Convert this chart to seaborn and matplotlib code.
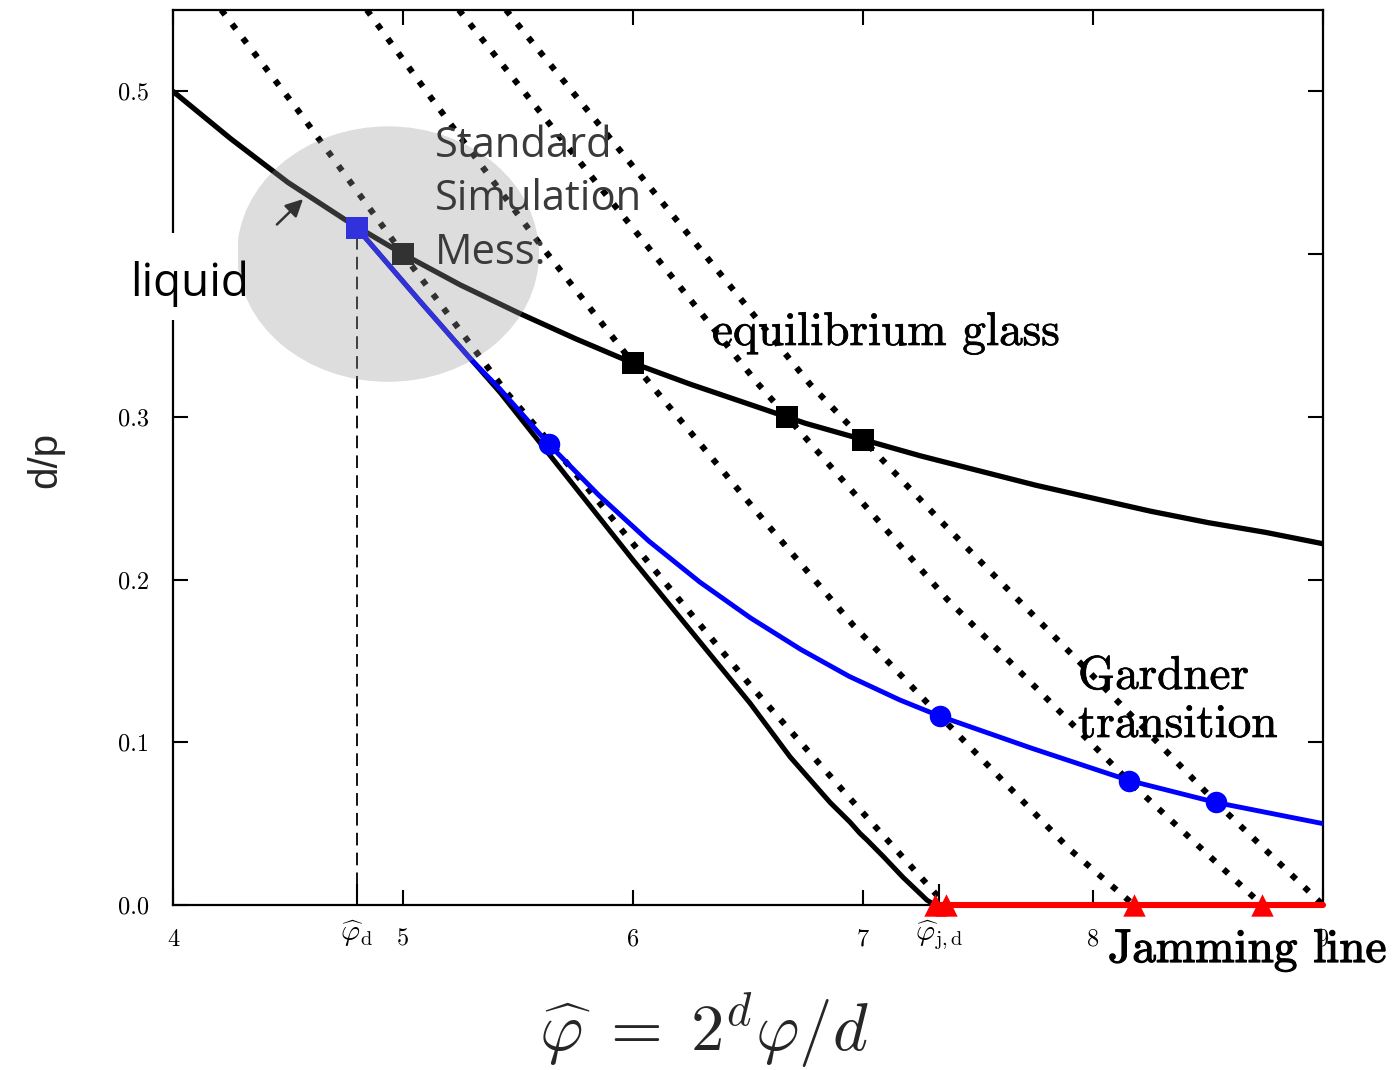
import matplotlib
matplotlib.use("Agg")
import matplotlib.pyplot as plt
import matplotlib.patheffects as pe
from matplotlib.patches import Ellipse, Rectangle
import seaborn as sns

# equilibrium liquid / glass line d/p
eq_x = [4.00, 4.25, 4.50, 4.75, 5.00, 5.25, 5.50, 5.75, 6.00, 6.25, 6.50,
        6.75, 7.00, 7.25, 7.50, 7.75, 8.00, 8.25, 8.50, 8.75, 9.00]
eq_y = [0.500, 0.471, 0.444, 0.421, 0.400, 0.381, 0.364, 0.348, 0.333, 0.320, 0.308,
        0.296, 0.286, 0.276, 0.267, 0.258, 0.250, 0.242, 0.235, 0.229, 0.222]

# glass followed from phi_d down to jamming
thr_x = [4.800, 5.074, 5.422, 6.000, 6.509, 6.683, 6.857, 6.943, 6.987, 7.017, 7.087, 7.174, 7.278, 7.313]
thr_y = [0.416, 0.371, 0.315, 0.212, 0.124, 0.091, 0.063, 0.051, 0.044, 0.040, 0.030, 0.017, 0.003, 0.0]

# Gardner line
gard_x = [4.800, 5.074, 5.291, 5.422, 5.635, 5.850, 6.070, 6.290, 6.510, 6.730, 6.940,
          7.160, 7.335, 7.730, 8.157, 8.535, 9.000]
gard_y = [0.416, 0.371, 0.336, 0.317, 0.283, 0.252, 0.2235, 0.1985, 0.1765, 0.157, 0.1405,
          0.126, 0.116, 0.0965, 0.0765, 0.063, 0.050]

# glass equations of state (dotted)
glass_eos = {
    "g5": ([4.21, 4.54, 5.00, 5.45, 5.64, 6.07, 6.51, 6.94, 7.36],
           [0.550, 0.489, 0.400, 0.315, 0.284, 0.210, 0.135, 0.066, 0.0]),
    "g6": ([4.843, 5.117, 5.596, 6.000, 6.565, 6.957, 7.335, 7.900, 8.178],
           [0.550, 0.497, 0.406, 0.333, 0.237, 0.172, 0.116, 0.034, 0.0]),
    "g667": ([5.243, 5.857, 6.539, 6.670, 7.365, 7.770, 8.157, 8.735],
             [0.550, 0.441, 0.321, 0.300, 0.188, 0.131, 0.076, 0.0]),
    "g7": ([5.448, 6.074, 6.770, 7.000, 7.365, 7.943, 8.535, 9.000],
           [0.550, 0.441, 0.320, 0.286, 0.232, 0.149, 0.063, 0.0]),
}

sq_x = [5.0, 6.0, 6.67, 7.0]
sq_y = [0.400, 0.333, 0.300, 0.286]
phi_d, phi_d_y = 4.8, 0.416
circ_x = [5.635, 7.335, 8.157, 8.535]
circ_y = [0.283, 0.116, 0.0765, 0.063]
jam_x = [7.313, 7.36, 8.178, 8.735]
jam_line_x = [7.313, 9.0]
phi_jd = 7.33

xticks = [4, 5, 6, 7, 8, 9]
yticks = [0.0, 0.1, 0.2, 0.3, 0.4, 0.5]
ytick_labels = ["0.0", "0.1", "0.2", "0.3", "", "0.5"]  # 0.4 sits under the "liquid" box

W, H = 1398, 1070
sns.set_theme(style="ticks")
plt.rcParams["font.family"] = ["DejaVu Sans"]
plt.rcParams["mathtext.fontset"] = "cm"

fig = plt.figure(figsize=(W / 100, H / 100), dpi=100)
ax = fig.add_axes([173 / W, 1 - 905 / H, 1150 / W, 895 / H])

sns.lineplot(x=eq_x, y=eq_y, ax=ax, color="black", lw=3.8, estimator=None, sort=False, zorder=3)
for name, (gx, gy) in glass_eos.items():
    sns.lineplot(x=gx, y=gy, ax=ax, color="black", lw=4.4, estimator=None, sort=False,
                 linestyle=(0, (1, 1.9)), dash_capstyle="butt", zorder=2)
sns.lineplot(x=thr_x, y=thr_y, ax=ax, color="black", lw=3.6, estimator=None, sort=False, zorder=3)
sns.lineplot(x=gard_x, y=gard_y, ax=ax, color="#0000ff", lw=3.5, estimator=None, sort=False, zorder=4)
sns.lineplot(x=jam_line_x, y=[0, 0], ax=ax, color="#ff0000", lw=4.4, estimator=None, sort=False,
             zorder=4, clip_on=False)

ax.vlines(phi_d, 0, phi_d_y, colors="black", lw=1.3, linestyles=(0, (7, 4)), zorder=2)

sns.scatterplot(x=sq_x, y=sq_y, ax=ax, marker="s", s=250, color="black", linewidth=0, zorder=5)
sns.scatterplot(x=[phi_d], y=[phi_d_y], ax=ax, marker="s", s=250, color="#0000ff", linewidth=0, zorder=5)
sns.scatterplot(x=circ_x, y=circ_y, ax=ax, marker="o", s=240, color="#0000ff", linewidth=0, zorder=5)
sns.scatterplot(x=jam_x, y=[0] * len(jam_x), ax=ax, marker="^", s=260, color="#ff0000",
                linewidth=0, zorder=5, clip_on=False)

ax.annotate("", xy=(4.574, 0.435), xytext=(4.443, 0.417),
            arrowprops=dict(arrowstyle="-|>", color="black", lw=1.8, mutation_scale=26), zorder=5)

# grey "standard simulation" blob
ax.add_patch(Ellipse((4.935, 0.400), 1.313, 0.157, facecolor=(0.6, 0.6, 0.6), alpha=0.33,
                     edgecolor="none", zorder=6))

ax.set_xlim(4, 9)
ax.set_ylim(0, 0.55)
ax.set_xticks(xticks)
ax.set_xticklabels([str(t) for t in xticks])
ax.set_yticks(yticks)
ax.set_yticklabels(ytick_labels)
ax.set_xticks([phi_d, phi_jd], minor=True)
ax.set_xticklabels([r"$\widehat{\varphi}_{\rm d}$", r"$\widehat{\varphi}_{\rm j,d}$"], minor=True)
ax.tick_params(which="major", direction="in", length=11, width=1.5, top=True, right=True,
               labelsize=17.5, pad=17, colors="black", labelfontfamily="cmr10")
ax.tick_params(which="minor", axis="x", direction="in", length=15, width=1.5, top=False,
               labelsize=21, pad=10, colors="black")
ax.tick_params(which="minor", axis="y", left=False, right=False)
for s in ax.spines.values():
    s.set_linewidth(1.6)
    s.set_color("black")
ax.set_xlabel("")
ax.set_ylabel("")


def fx(px):
    return px / W


def fy(py):
    return 1 - py / H


bold = [pe.withStroke(linewidth=0.9, foreground="black")]
semi = [pe.withStroke(linewidth=0.5, foreground="black")]

fig.add_artist(Rectangle((fx(108), fy(320)), 130 / W, 87 / H, transform=fig.transFigure,
                         facecolor="white", edgecolor="none", zorder=5))
fig.text(fx(130), fy(296), "liquid", fontsize=33, family="Open Sans", color="black",
         va="baseline", zorder=6)
fig.text(fx(435), fy(264), "Standard\nSimulation\nMess:", fontsize=30, family="Open Sans",
         color="#3a3a3a", va="baseline", linespacing=1.36, zorder=7)
fig.text(fx(712), fy(345), "equilibrium glass", fontsize=34, family="cmr10", va="baseline",
         color="black", path_effects=semi, zorder=7)
fig.text(fx(1078), fy(737), "Gardner\ntransition", fontsize=34, family="cmr10", va="baseline",
         color="black", linespacing=1.2, path_effects=semi, zorder=7)
fig.text(fx(1108), fy(962), "Jamming line", fontsize=34, family="cmr10", va="baseline",
         color="black", path_effects=bold, zorder=7)
fig.text(fx(45), fy(460), "d/p", fontsize=29, family="Liberation Sans", rotation=90,
         ha="center", va="center")
fig.text(fx(704), fy(1030), r"$\widehat{\varphi}\;=\;2^d\varphi/d$", fontsize=48,
         ha="center", va="center")

fig.savefig("out.png", dpi=100)
